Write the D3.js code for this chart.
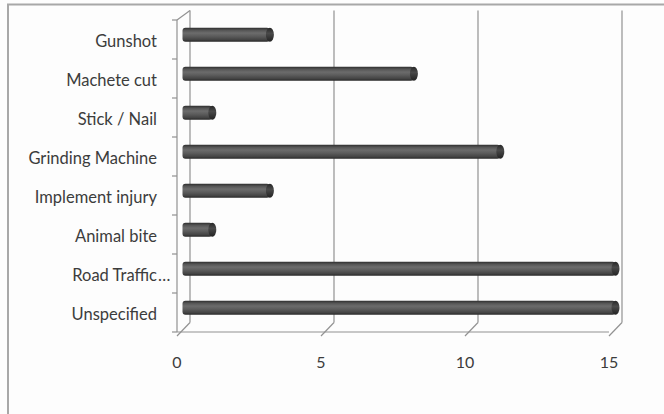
<!DOCTYPE html>
<html>
<head>
<meta charset="utf-8">
<script src="https://cdn.jsdelivr.net/npm/d3@7/dist/d3.min.js"></script>
<style>
  html, body { margin: 0; padding: 0; background: #fff; }
  svg { display: block; }
  text { font-family: Lato, "Open Sans", sans-serif; fill: #3c3c3c; }
</style>
</head>
<body>
<svg id="chart" width="664" height="414"></svg>
<script>
// Injury causes (top to bottom) and their counts
const categories = ["Gunshot", "Machete cut", "Stick / Nail", "Grinding Machine",
                    "Implement injury", "Animal bite", "Road Traffic…", "Unspecified"];
const counts = [3, 8, 1, 11, 3, 1, 15, 15];
const xTicks = [0, 5, 10, 15];

const svg = d3.select("#chart");
const W = 664, H = 414;

// Chart frame
svg.append("rect").attr("width", W).attr("height", H).attr("fill", "#fdfdfd");
svg.append("path")
  .attr("d", `M8,${H} L8,4.5 L${W},4.5`)
  .attr("fill", "none").attr("stroke", "#a8a8a8").attr("stroke-width", 2);

// Front plane scales; the back wall is shifted by the depth offset
const depth = { dx: 13, dy: -9.5 };
const x = d3.scaleLinear().domain([0, 15]).range([177, 609]);
const y = d3.scaleBand().domain(categories).range([20, 332]);

const grid = svg.append("g").attr("stroke", "#929292").attr("stroke-width", 1.2).attr("fill", "none");

// Back-wall vertical gridlines
xTicks.forEach(t => {
  const xb = x(t) + depth.dx;
  grid.append("line").attr("x1", xb).attr("x2", xb)
    .attr("y1", y.range()[0] + depth.dy).attr("y2", y.range()[1] + depth.dy);
  // depth tick running from the floor edge back to the wall
  grid.append("line").attr("x1", x(t)).attr("y1", y.range()[1] + 4)
    .attr("x2", xb).attr("y2", y.range()[1] + depth.dy);
});

// Side wall: front edge (category axis) and its top corner
grid.append("line").attr("x1", x(0)).attr("x2", x(0))
  .attr("y1", y.range()[0]).attr("y2", y.range()[1]);
grid.append("line").attr("x1", x(0)).attr("y1", y.range()[0])
  .attr("x2", x(0) + depth.dx).attr("y2", y.range()[0] + depth.dy);

// Floor front edge (value axis)
grid.append("line").attr("x1", x(0)).attr("x2", x(15))
  .attr("y1", y.range()[1]).attr("y2", y.range()[1]);

// Category tick marks at band boundaries
const bounds = categories.map(c => y(c)).concat([y.range()[1]]);
bounds.forEach(b => {
  grid.append("line").attr("x1", x(0) - 5).attr("x2", x(0)).attr("y1", b).attr("y2", b);
});

// Cylinder shading
const defs = svg.append("defs");
const g1 = defs.append("linearGradient").attr("id", "cyl").attr("x1", 0).attr("y1", 0).attr("x2", 0).attr("y2", 1);
[[0, "#2e2e2e"], [0.18, "#555"], [0.38, "#6c6c6c"], [0.6, "#5c5c5c"], [0.85, "#444"], [1, "#282828"]]
  .forEach(([o, c]) => g1.append("stop").attr("offset", o).attr("stop-color", c));
const g2 = defs.append("linearGradient").attr("id", "cap").attr("x1", 0).attr("y1", 0).attr("x2", 0).attr("y2", 1);
[[0, "#262626"], [0.4, "#4a4a4a"], [1, "#222"]]
  .forEach(([o, c]) => g2.append("stop").attr("offset", o).attr("stop-color", c));

// Bars sit half-way into the depth
const barH = 14;
const bx = v => x(v) + depth.dx / 2;
const by = c => y(c) + y.bandwidth() / 2 + depth.dy / 2;
const rows = categories.map((c, i) => ({ c, v: counts[i] }));

const bars = svg.append("g").selectAll("g").data(rows).join("g");
bars.append("rect")
  .attr("x", bx(0) - 1).attr("y", d => by(d.c) - barH / 2)
  .attr("width", d => bx(d.v) - bx(0) + 1).attr("height", barH)
  .attr("rx", 3).attr("fill", "url(#cyl)");
bars.append("ellipse")
  .attr("cx", d => bx(d.v)).attr("cy", d => by(d.c))
  .attr("rx", 4).attr("ry", barH / 2).attr("fill", "url(#cap)");

// Category labels (a trailing ellipsis hangs past the label edge)
const labelX = 157;
const labels = svg.append("g").attr("font-size", 16.5);
rows.forEach(d => {
  const cy = y(d.c) + y.bandwidth() / 2 + 2;
  const trunc = d.c.endsWith("…");
  const main = trunc ? d.c.slice(0, -1) : d.c;
  labels.append("text").attr("x", labelX).attr("y", cy).attr("dy", "0.35em")
    .attr("text-anchor", "end").text(main);
  if (trunc) {
    labels.append("text").attr("x", labelX + 1).attr("y", cy).attr("dy", "0.35em")
      .attr("text-anchor", "start").text("…");
  }
});

// Value tick labels
svg.append("g").attr("font-size", 16)
  .selectAll("text").data(xTicks).join("text")
  .attr("x", d => x(d)).attr("y", 362).attr("dy", "0.35em")
  .attr("text-anchor", "middle").text(d => d);
</script>
</body>
</html>
